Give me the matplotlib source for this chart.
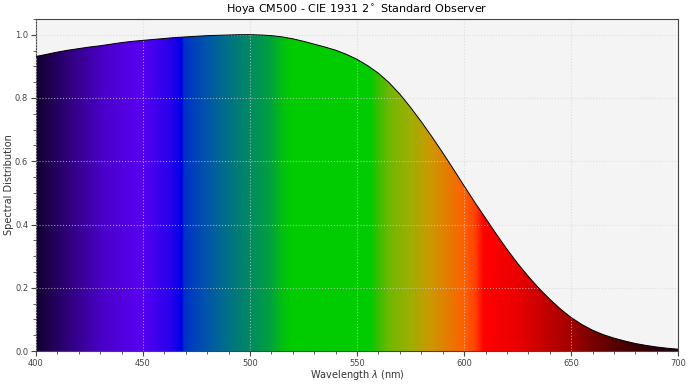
"""
plot.py

spectral distribution of the Hoya CM500 filter, filled with the visible spectrum
"""
import matplotlib
matplotlib.use('Agg')
import matplotlib.pyplot as plt
import numpy as np
from matplotlib.colors import LinearSegmentedColormap
from matplotlib.ticker import MultipleLocator

# data (every 5 nm) ------------------------------------------------------------
wavelengths = list(range(400, 705, 5))
distribution = [0.931, 0.938, 0.945, 0.951, 0.956, 0.961, 0.965, 0.970,
                0.975, 0.979, 0.982, 0.985, 0.988, 0.991, 0.993, 0.995,
                0.997, 0.998, 0.999, 1.000, 1.000, 0.999, 0.997, 0.993,
                0.987, 0.979, 0.970, 0.961, 0.951, 0.938, 0.922, 0.902,
                0.878, 0.848, 0.812, 0.770, 0.725, 0.677, 0.627, 0.575,
                0.522, 0.470, 0.420, 0.370, 0.322, 0.277, 0.236, 0.198,
                0.164, 0.133, 0.106, 0.084, 0.066, 0.052, 0.041, 0.032,
                0.024, 0.018, 0.013, 0.009, 0.006]

# colour of the spectrum at a few wavelengths
spectrum_wl = [400, 415, 431, 447, 451, 462, 468, 469, 478, 487, 500,
               509, 515, 519, 556, 559, 565, 575, 584, 593, 600,
               605, 609, 623, 639, 650, 662, 678, 700]
spectrum_hex = ['#120030', '#30007a', '#4a00c8', '#5800ee', '#5000f0',
                '#2a00ec', '#0000e6', '#0030c8', '#0050b0', '#006a90',
                '#008a60', '#00a040', '#00c010', '#00cc00', '#00cc00',
                '#30c000', '#70b800', '#a0ae00', '#cc9800', '#e87800',
                '#ff6000', '#ff4000', '#ff0000', '#ee0000', '#c00000',
                '#a00000', '#700000', '#400000', '#1a0010']

title = 'Hoya CM500 - CIE 1931 2$^\\circ$ Standard Observer'
x_label = 'Wavelength $\\lambda$ (nm)'
y_label = 'Spectral Distribution'


def spectrum_cmap():
    """
    build a colour map running from 400 to 700 nm
    """
    lo, hi = spectrum_wl[0], spectrum_wl[-1]
    stops = [((w - lo) / (hi - lo), c) for w, c in zip(spectrum_wl, spectrum_hex)]
    return LinearSegmentedColormap.from_list('spectrum', stops, N=1024)


fig = plt.figure(figsize=(6.9, 3.85), dpi=100)
ax = fig.add_axes([0.052, 0.088, 0.931, 0.863])
ax.set_facecolor('#f4f4f4')

x = np.array(wavelengths)
y = np.array(distribution)

# spectrum image clipped by the area under the curve
gradient = np.linspace(0, 1, 1024).reshape(1, -1)
img = ax.imshow(gradient, cmap=spectrum_cmap(), aspect='auto',
                extent=[x[0], x[-1], 0, 1.05], origin='lower', zorder=1,
                interpolation='bilinear')
area = ax.fill_between(x, y, 0, facecolor='none', edgecolor='none')
clip = area.get_paths()[0]
img.set_clip_path(clip, transform=ax.transData)
ax.plot(x, y, color='black', linewidth=0.7, zorder=3)

ax.set_xlim(400, 700)
ax.set_ylim(0, 1.05)
ax.xaxis.set_major_locator(MultipleLocator(50))
ax.xaxis.set_minor_locator(MultipleLocator(10))
ax.yaxis.set_major_locator(MultipleLocator(0.2))
ax.yaxis.set_minor_locator(MultipleLocator(0.05))
ax.grid(True, which='major', color='#d4d4d4', linestyle=':', linewidth=0.8,
        alpha=0.7, zorder=2)
ax.set_axisbelow(False)

ax.tick_params(which='major', labelsize=6, labelcolor='#444444',
               color='#444444', length=3.5, width=0.8, pad=2)
ax.tick_params(which='minor', color='#444444', length=2.5, width=0.6)
for spine in ax.spines.values():
    spine.set_color('#444444')
    spine.set_linewidth(0.8)

ax.set_title(title, fontsize=8, pad=4)
ax.set_xlabel(x_label, fontsize=7, color='#333333', labelpad=0)
ax.set_ylabel(y_label, fontsize=7, color='#333333', labelpad=1)

fig.savefig('out.png', dpi=100)
